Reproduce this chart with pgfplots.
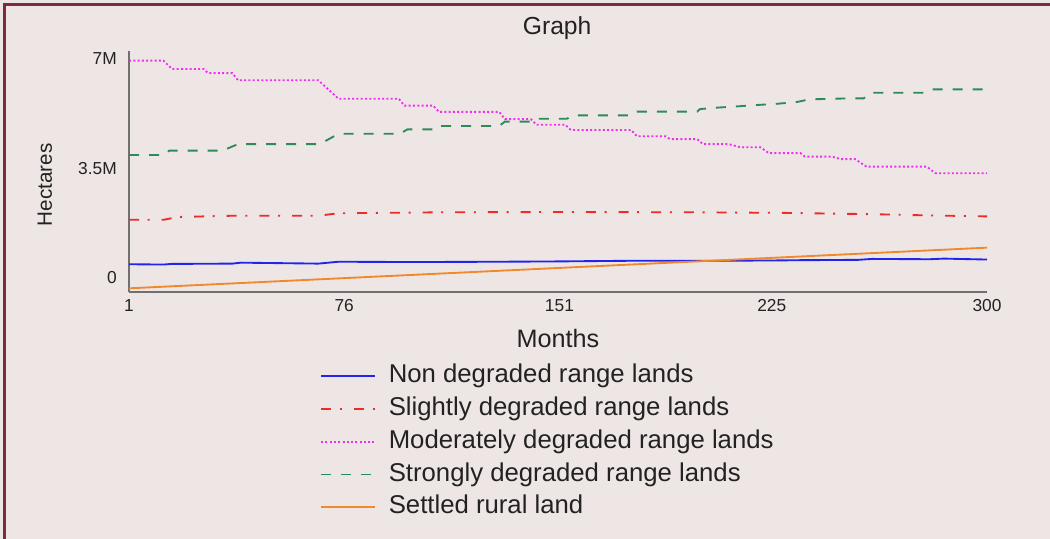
\documentclass[border=0pt]{standalone}
\usepackage{pgfplots}
\pgfplotsset{compat=1.18}
\usepackage{fontspec}
\setmainfont{Liberation Sans}
\definecolor{bgc}{HTML}{EEE6E5}
\definecolor{brd}{HTML}{7A2C3A}
\definecolor{axc}{HTML}{707070}
\definecolor{txt}{HTML}{222222}
\definecolor{c1}{HTML}{2323EE}
\definecolor{c2}{HTML}{EE2A2A}
\definecolor{c3}{HTML}{EE30EE}
\definecolor{c4}{HTML}{2E8B57}
\definecolor{c5}{HTML}{F0882E}
\begin{document}
\begin{tikzpicture}
\fill[bgc] (0,0) rectangle (787.5pt,-404.25pt);
\useasboundingbox (0,0) rectangle (787.5pt,-404.25pt);
\draw[brd, line width=2pt] (3.5pt,-404.25pt) -- (3.5pt,-3.5pt) -- (787.5pt,-3.5pt);
\begin{axis}[
  at={(96.75pt,-219pt)}, anchor=south west,
  scale only axis, width=643.5pt, height=180.75pt,
  xmin=1, xmax=300, ymin=-0.4475, ymax=7.256,
  axis x line*=bottom, axis y line*=left,
  axis line style={axc, line width=1.5pt},
  major tick length=0pt,
  xtick={1,76,151,225,300}, xticklabels={1,76,151,225,300},
  ytick={0,3.5,7}, yticklabels={0,3.5M,7M},
  ticklabel style={font=\fontsize{13}{14}\selectfont, text=txt},
  xticklabel style={inner sep=0pt, yshift=-5.5pt},
  yticklabel style={inner sep=0pt, xshift=-9pt},
  title={Graph},
  title style={at={(axis description cs:0.499,1.06)}, anchor=center, yshift=0pt, font=\fontsize{18.5}{20}\selectfont, text=txt},
  xlabel={Months},
  xlabel style={at={(axis description cs:0.5,-0.191)}, anchor=center, font=\fontsize{18.9}{20}\selectfont, text=txt},
  ylabel={Hectares},
  ylabel style={at={(axis description cs:-0.098,0.444)}, anchor=center, font=\fontsize{15.5}{17}\selectfont, text=txt},
  legend style={at={(axis description cs:0.2226,-0.298)}, anchor=north west, draw=none, fill=none,
    font=\fontsize{19.3}{21}\selectfont, text=txt, row sep=6.6pt, column sep=10pt, inner sep=0pt,
    nodes={inner sep=0pt, text height=14pt, text depth=4pt}},
  legend cell align=left,
  legend image code/.code={\draw[#1] (0pt,0pt) -- (40pt,0pt);},
  every axis plot/.append style={line width=1.4pt},
  clip=false,
]
\addplot[c1] coordinates {(1,0.44) (13,0.43) (16,0.45) (37,0.46) (40,0.49) (67,0.46) (74,0.52) (100,0.51) (130,0.52) (150,0.53) (175,0.55) (200,0.55) (225,0.56) (235,0.57) (255,0.58) (260,0.61) (280,0.60) (285,0.62) (300,0.59)};
\addlegendentry{Non degraded range lands}
\addplot[c2, dash pattern=on 7.5pt off 6.5pt on 1.5pt off 9pt] coordinates {(1,1.86) (13,1.86) (18,1.95) (37,1.99) (67,1.99) (74,2.07) (110,2.10) (150,2.11) (200,2.10) (230,2.08) (260,2.04) (280,2.0) (300,1.97)};
\addlegendentry{Slightly degraded range lands}
\addplot[c3, dash pattern=on 1.5pt off 1.7pt] coordinates {(1,6.95) (13,6.95) (16,6.68) (27,6.68) (28.5,6.55) (37,6.55) (39,6.32) (67,6.32) (74,5.73) (95,5.73) (97,5.51) (107,5.51) (109,5.31) (130,5.31) (132,5.08) (141,5.08) (143,4.90) (153,4.90) (155,4.73) (176,4.73) (178,4.53) (188,4.53) (189.5,4.44) (199,4.44) (201,4.28) (210,4.28) (214,4.18) (221,4.18) (224,3.99) (235,3.99) (236.5,3.88) (246,3.88) (249,3.80) (254,3.80) (258,3.56) (279,3.56) (282,3.35) (300,3.35)};
\addlegendentry{Moderately degraded range lands}
\addplot[c4, dash pattern=on 7.5pt off 7.5pt] coordinates {(1,3.93) (13,3.93) (15,4.07) (33.5,4.07) (39,4.28) (67.5,4.28) (74,4.61) (95.4,4.61) (98,4.75) (108,4.75) (109.4,4.86) (130,4.86) (132,5.00) (141.5,5.00) (143,5.09) (153.6,5.09) (155.7,5.20) (175.6,5.20) (178,5.32) (199,5.32) (200,5.40) (205,5.44) (212,5.48) (220,5.53) (227,5.57) (234,5.63) (238,5.71) (251,5.74) (257,5.74) (259.5,5.92) (278,5.92) (280,6.03) (300,6.03)};
\addlegendentry{Strongly degraded range lands}
\addplot[c5] coordinates {(1,-0.33) (300,0.97)};
\addlegendentry{Settled rural land}
\end{axis}
\end{tikzpicture}
\end{document}
